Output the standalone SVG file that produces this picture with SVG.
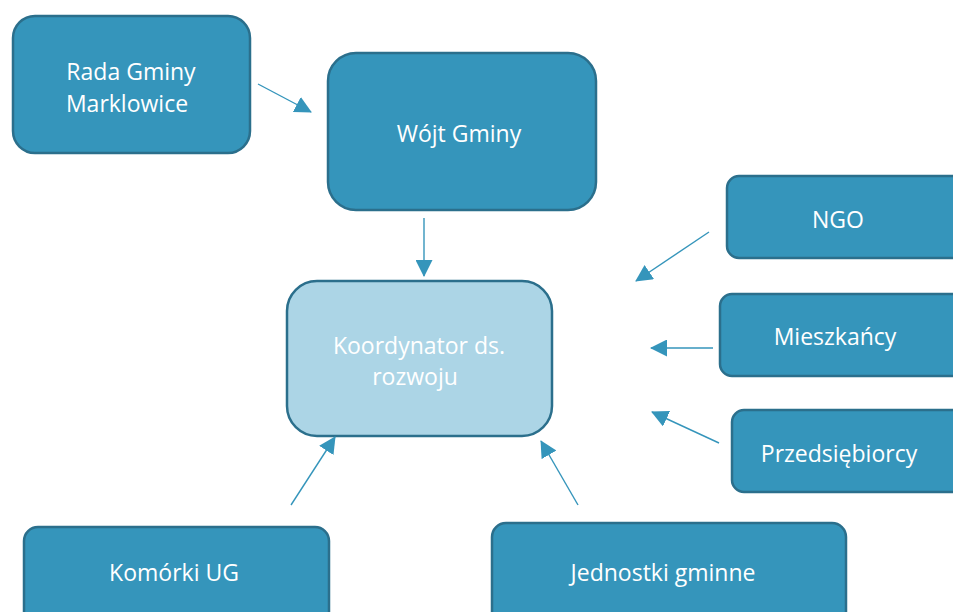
<svg xmlns="http://www.w3.org/2000/svg" width="953" height="612" viewBox="0 0 953 612">
<style>
.n{fill:#3595bb;stroke:#2b6f8c;stroke-width:2.5}
.k{fill:#acd5e6;stroke:#2b6f8c;stroke-width:2.5}
.t{font-family:"Open Sans","Liberation Sans",sans-serif;font-size:23px;fill:#ffffff;text-anchor:middle}
.c{stroke:#3595bb;stroke-width:1.4;fill:none;marker-end:url(#ah)}
</style>
<defs>
<marker id="ah" markerWidth="17" markerHeight="17" viewBox="0 0 17 17" refX="16" refY="8.5" orient="auto" markerUnits="userSpaceOnUse">
<path d="M0,0 L17,8.5 L0,17 Z" fill="#3595bb"/>
</marker>
</defs>
<rect width="953" height="612" fill="#ffffff"/>
<g id="rada"><rect class="n" x="13" y="16" width="237" height="137" rx="22"/><text class="t" x="131" y="80">Rada Gminy</text><text class="t" x="127" y="112">Marklowice</text></g>
<g id="wojt"><rect class="n" x="328" y="53" width="268" height="157" rx="28"/><text class="t" x="459" y="142">Wójt Gminy</text></g>
<g id="koordynator"><rect class="k" x="287" y="281" width="265" height="155" rx="30"/><text class="t" x="419" y="354">Koordynator ds.</text><text class="t" x="415" y="385">rozwoju</text></g>
<g id="ngo"><rect class="n" x="727" y="176" width="240" height="82" rx="12"/><text class="t" x="838" y="228">NGO</text></g>
<g id="mieszkancy"><rect class="n" x="720" y="294" width="247" height="82" rx="12"/><text class="t" x="835" y="345">Mieszkańcy</text></g>
<g id="przedsiebiorcy"><rect class="n" x="732" y="410" width="235" height="82" rx="12"/><text class="t" x="839" y="462">Przedsiębiorcy</text></g>
<g id="komorki"><rect class="n" x="24" y="527" width="305" height="100" rx="14"/><text class="t" x="174" y="581">Komórki UG</text></g>
<g id="jednostki"><rect class="n" x="492" y="523" width="354" height="104" rx="14"/><text class="t" x="663" y="581">Jednostki gminne</text></g>
<g id="connectors">
<line class="c" x1="258" y1="84" x2="311" y2="112"/>
<line class="c" x1="424" y1="218" x2="424" y2="276"/>
<line class="c" x1="709" y1="232" x2="636" y2="281"/>
<line class="c" x1="713" y1="348" x2="651" y2="348"/>
<line class="c" x1="719" y1="443" x2="652" y2="412"/>
<line class="c" x1="291" y1="505" x2="335" y2="437"/>
<line class="c" x1="578" y1="505" x2="541" y2="441"/>
</g>
</svg>
